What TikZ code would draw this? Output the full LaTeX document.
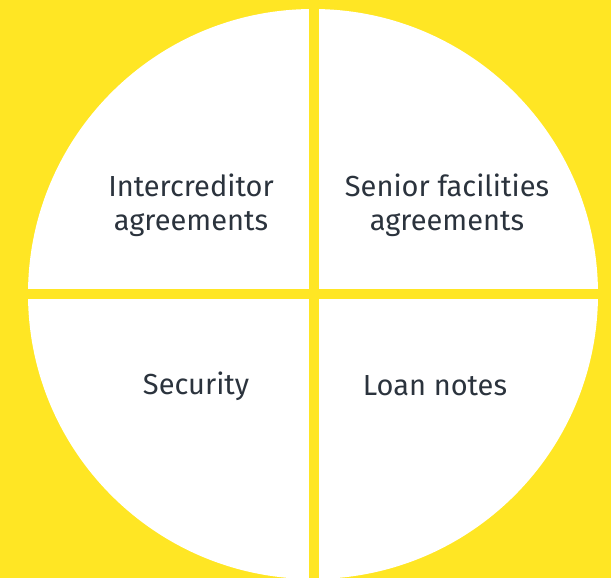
\documentclass[tikz,border=0pt]{standalone}
\usepackage{fontspec}
\setmainfont{Fira Sans}
\definecolor{bgyellow}{HTML}{FFE624}
\definecolor{txt}{HTML}{2B333D}
\begin{document}
\begin{tikzpicture}[x=1pt,y=-1pt,
  lbl/.style={text=txt,font=\fontsize{29}{34}\selectfont,align=center,inner sep=0pt}]
\useasboundingbox (0,0) rectangle (611,578);
\fill[bgyellow] (0,0) rectangle (611,578);
\begin{scope}
\clip (0,0) rectangle (611,578);
\fill[white] (313,294) circle[radius=285];
\fill[bgyellow] (309,0) rectangle (319,578);
\fill[bgyellow] (0,289) rectangle (611,299);
\end{scope}
\node[lbl] (ic) at (191,205.5) {Intercreditor\\agreements};
\node[lbl] (sf) at (447,205.5) {Senior facilities\\agreements};
\node[lbl] (se) at (196,386) {Security};
\node[lbl] (ln) at (435,386) {Loan notes};
\end{tikzpicture}
\end{document}
